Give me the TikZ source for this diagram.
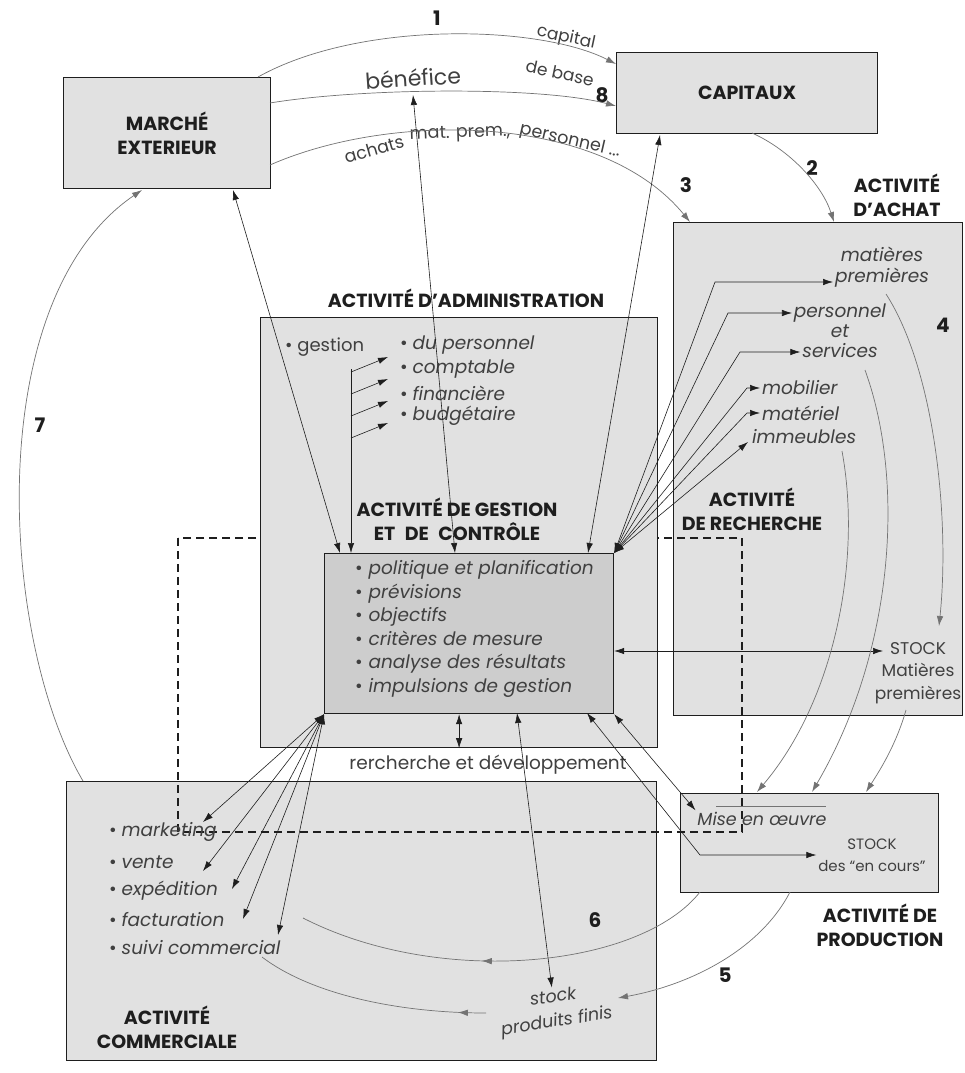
\documentclass[tikz,border=0pt]{standalone}
\usepackage{fontspec}
\setmainfont{Poppins}
\usetikzlibrary{arrows.meta,decorations.markings,calc}
\definecolor{boxfill}{RGB}{225,225,225}
\definecolor{corefill}{RGB}{205,205,205}
\definecolor{ink}{RGB}{30,30,30}
\definecolor{flowgray}{RGB}{115,115,115}
\begin{document}
\begin{tikzpicture}[x=1pt,y=-1pt,
  >={Latex[length=10pt,width=6.5pt]},
  box/.style={draw=ink, line width=1.2pt, fill=boxfill, inner sep=0pt, anchor=north west},
  head/.style={font=\fontsize{19}{24}\selectfont\bfseries, text=ink, align=center, inner sep=0pt},
  num/.style={font=\fontsize{20}{22}\selectfont\bfseries, text=ink, inner sep=0pt},
  itm/.style={font=\fontsize{18.5}{23.5}\selectfont\itshape, text=ink!85, inner sep=0pt, outer sep=2pt},
  txt/.style={font=\fontsize{18}{23}\selectfont, text=ink!85, inner sep=0pt, outer sep=2pt},
  arclabel/.style={font=\fontsize{17.5}{20}\selectfont, text=ink!85, inner sep=0pt},
  link/.style={draw=ink, line width=0.6pt, <->},
  flow/.style={draw=flowgray, line width=0.7pt, ->},
  midarrow/.style={draw=flowgray, line width=0.7pt, postaction={decorate},
    decoration={markings, mark=at position #1 with {\arrow{>}}}},
  frame/.style={draw=ink, line width=1.1pt, dash pattern=on 8pt off 5pt}
]
\useasboundingbox (0,0) rectangle (965,1073);
\fill[white] (0,0) rectangle (965,1073);

% ---- outer activity boxes
\node[box, head, minimum width=207pt, minimum height=111pt] (marche) at (63,77) {MARCHÉ\\EXTERIEUR};
\node[box, head, minimum width=261pt, minimum height=81pt] (capitaux) at (616,52) {CAPITAUX};
\node[box, minimum width=289pt, minimum height=493pt] (achat) at (673,222) {};
\node[box, minimum width=590pt, minimum height=279pt] (comm) at (66,781) {};
\node[box, minimum width=258pt, minimum height=99pt] (prod) at (680,793) {};

% ---- research frame (dashed)
\draw[frame] (178,538) rectangle (742,832);

% ---- administration and control
\node[box, minimum width=397pt, minimum height=430pt] (admin) at (260,317) {};
\node[box, fill=corefill, minimum width=289pt, minimum height=160pt] (ctrl) at (324,553) {};

% ---- headings
\node[head] (hadmin) at (466,298) {ACTIVITÉ D'ADMINISTRATION};
\node[head] (hctrl) at (457,519) {ACTIVITÉ DE GESTION\\ET\enspace DE\enspace CONTRÔLE};
\node[head] (hachat) at (897,195) {ACTIVITÉ\\D'ACHAT};
\node[head] (hrech) at (752,509) {ACTIVITÉ\\DE RECHERCHE};
\node[head] (hprod) at (880,925) {ACTIVITÉ DE\\PRODUCTION};
\node[head] (hcomm) at (167,1027) {ACTIVITÉ\\COMMERCIALE};

% ---- flow numbers
\node[num] (n1) at (437,18) {1};
\node[num] (n8) at (602,95) {8};
\node[num] (n2) at (812,168) {2};
\node[num] (n3) at (686,185) {3};
\node[num] (n4) at (943,325) {4};
\node[num] (n7) at (40,425) {7};
\node[num] (n6) at (595,920) {6};
\node[num] (n5) at (725,975) {5};

% ---- labels of the top flows
\node[arclabel, rotate=-12, font=\fontsize{17}{20}\selectfont] (capital) at (566,38) {capital};
\node[arclabel, rotate=-12, font=\fontsize{17}{20}\selectfont] (debase) at (560,73) {de base};
\node[arclabel, rotate=4, font=\fontsize{22}{24}\selectfont] (benef) at (413,78) {bénéfice};
\node[arclabel, rotate=16] (ach1) at (374,149) {achats};
\node[arclabel, rotate=2] (ach2) at (460,134) {mat. prem.,};
\node[arclabel, rotate=-13] (ach3) at (570,141) {personnel ...};

% ---- top flows
\coordinate (a1s) at (258,77);
\coordinate (a1e) at (616,64);
\draw[flow] (a1s) .. controls (360,20) and (540,25) .. (a1e);
\coordinate (bs) at (270,103);
\coordinate (be) at (616,106);
\draw[flow] (bs) .. controls (360,88) and (540,86) .. (be);
\coordinate (cs) at (270,165);
\coordinate (ce) at (690,222);
\draw[flow] (cs) .. controls (390,112) and (600,112) .. (ce);
\coordinate (ds) at (752,133);
\coordinate (de) at (834,222);
\draw[flow] (ds) .. controls (790,150) and (822,185) .. (de);

% ---- flow 7 back to the market
\coordinate (s7) at (83,781);
\coordinate (e7) at (142,190);
\draw[flow] (s7) .. controls (0,640) and (-20,300) .. (e7);

% ---- administration items
\node[txt, anchor=west] (gestion) at (283,347) {•\hspace{5pt}gestion};
\node[itm, anchor=west] (adm1) at (398,345) {\upshape•\hspace{5pt}\itshape du personnel};
\node[itm, anchor=west] (adm2) at (398,369) {\upshape•\hspace{5pt}\itshape comptable};
\node[itm, anchor=west] (adm3) at (398,393) {\upshape•\hspace{5pt}\itshape financière};
\node[itm, anchor=west] (adm4) at (398,416) {\upshape•\hspace{5pt}\itshape budgétaire};
\coordinate (g0) at (351,369);
\draw[draw=ink, line width=0.6pt, ->] (g0) -- (g0 |- ctrl.north);
\foreach \y in {0,22,44,66}{
  \draw[draw=ink, line width=0.6pt, ->] ($(g0)+(0,3+\y)$) -- ++(37,-15);
}

% ---- control items
\node[itm, anchor=west, align=left] (ctrlitems) at (353,629)
  {\upshape•\hspace{6pt}\itshape politique et planification\\
   \upshape•\hspace{6pt}\itshape prévisions\\
   \upshape•\hspace{6pt}\itshape objectifs\\
   \upshape•\hspace{6pt}\itshape critères de mesure\\
   \upshape•\hspace{6pt}\itshape analyse des résultats\\
   \upshape•\hspace{6pt}\itshape impulsions de gestion};

% ---- purchase items
\node[itm] (matieres) at (882,254) {matières};
\node[itm] (premieres) at (882,278) {premières};
\node[itm] (personnel) at (840,313) {personnel};
\node[itm] (et) at (840,331) {et};
\node[itm] (services) at (840,351) {services};
\node[itm, anchor=west] (mobilier) at (760,388) {mobilier};
\node[itm, anchor=west] (materiel) at (760,413) {matériel};
\node[itm, anchor=west] (immeubles) at (750,437) {immeubles};
\node[txt, align=center, font=\fontsize{17}{22.5}\selectfont] (stockmp) at (918,673) {STOCK\\Matières\\premières};
\coordinate (stockin) at (883,651);

% ---- production texts
\node[itm, font=\fontsize{17.5}{20}\selectfont\itshape] (mise) at (762,819) {Mise en œuvre};
\draw[draw=flowgray, line width=0.5pt] (716,806) -- (826,806);
\node[txt, align=center, font=\fontsize{15}{22}\selectfont] (stockec) at (872,855) {STOCK\\des “en cours”};

% ---- commercial items
\node[itm, anchor=west] (mk) at (107,832) {\upshape•\hspace{5pt}\itshape marketing};
\node[itm, anchor=west] (ve) at (107,862) {\upshape•\hspace{5pt}\itshape vente};
\node[itm, anchor=west] (ex) at (107,891) {\upshape•\hspace{5pt}\itshape expédition};
\node[itm, anchor=west] (fa) at (107,920) {\upshape•\hspace{5pt}\itshape facturation};
\node[itm, anchor=west] (su) at (107,948) {\upshape•\hspace{5pt}\itshape suivi commercial};

\node[txt, font=\fontsize{18.5}{20}\selectfont] (rd) at (488,765) {rercherche et développement};
\node[itm, rotate=8, font=\fontsize{17.5}{20}\selectfont\itshape] (stk) at (553,996) {stock};
\node[itm, rotate=9, font=\fontsize{17.5}{20}\selectfont\itshape] (pf) at (557,1022) {produits finis};

% ---- links between the control centre and everything else
\coordinate (mk0) at (233,190);
\draw[link] (mk0) -- (340,553);
\coordinate (bn0) at (413,95);
\draw[link] (bn0) -- (455,553);
\coordinate (cp0) at (660,135);
\draw[link] (cp0) -- (588,553);

% fan towards purchases
\coordinate (b1) at (715,282);
\coordinate (b2) at (728,313);
\coordinate (b3) at (740,352);
\coordinate (b4) at (747,388);
\coordinate (b5) at (747,413);
\draw[link] (ctrl.north east) -- (b1) -- (b1 -| premieres.west);
\draw[link] (ctrl.north east) -- (b2) -- (b2 -| personnel.west);
\draw[link] (ctrl.north east) -- (b3) -- (b3 -| services.west);
\draw[link] (ctrl.north east) -- (b4) -- (b4 -| mobilier.west);
\draw[link] (ctrl.north east) -- (b5) -- (b5 -| materiel.west);
\draw[link] (ctrl.north east) -- ($(immeubles.west)+(-2,5)$);

% stock of raw materials
\draw[link] (ctrl.east |- stockin) -- (stockin);
% research and development
\draw[link] (admin.south) -- (admin.south |- ctrl.south);
% production
\coordinate (pe) at (700,855);
\draw[link] (587,713) -- (pe) -- (pe -| stockec.west);
\draw[link] (ctrl.south east) -- (mise.north west);
% finished goods
\draw[link] (517,713) -- (stk.north);

% fan towards sales
\coordinate (tmk) at (203,822);
\coordinate (tve) at (203,871);
\coordinate (tex) at (232,889);
\coordinate (tfa) at (243,919);
\coordinate (tsu) at (278,935);
\foreach \t in {tmk,tve,tex,tfa,tsu}{
  \draw[link] (ctrl.south west) -- (\t);
}

% ---- material flows inside the purchase area
\draw[flow] (886,294) .. controls (935,370) and (950,520) .. (939,626);
\coordinate (p1) at (757,792);
\coordinate (p2) at (812,792);
\coordinate (p3) at (866,792);
\draw[flow] (842,451) .. controls (862,560) and (835,700) .. (p1);
\draw[flow] (865,370) .. controls (905,480) and (895,650) .. (p2);
\draw[flow] (906,710) .. controls (896,745) and (880,770) .. (p3);

% ---- flows out of production
\draw[midarrow=0.56] (700,892) .. controls (640,968) and (440,988) .. (303,918);
\draw[flow] (790,892) .. controls (760,950) and (690,985) .. (618,998);
\draw[midarrow=0.12] (486,1013) .. controls (400,1013) and (312,995) .. (262,957);
\end{tikzpicture}
\end{document}
